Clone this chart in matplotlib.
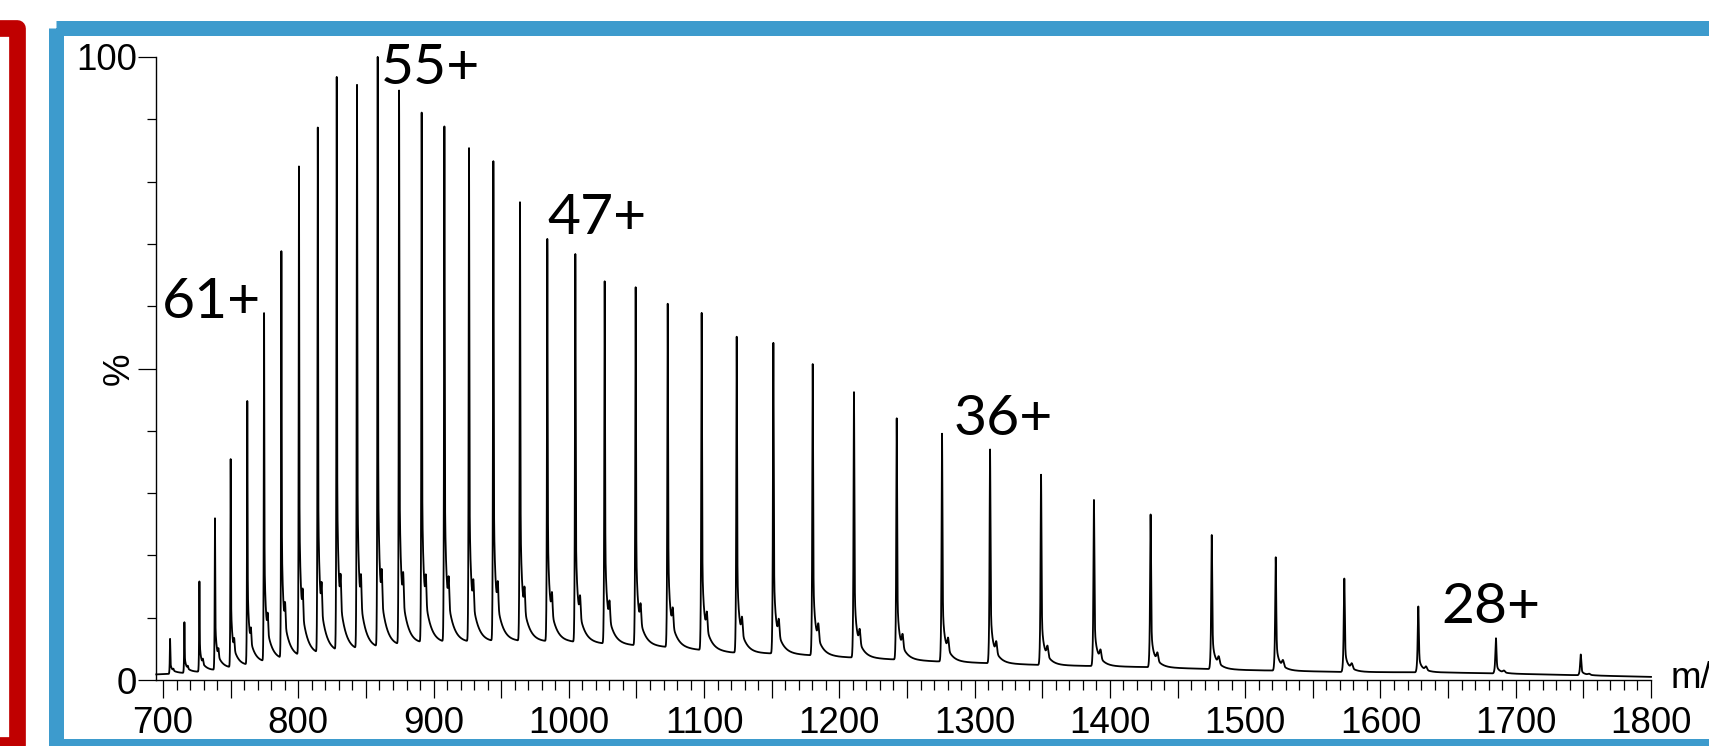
import numpy as np
import matplotlib.pyplot as plt
from matplotlib.patches import Rectangle
from matplotlib.ticker import MultipleLocator, FixedLocator, FuncFormatter

plt.rcParams['font.family'] = ['Liberation Sans', 'DejaVu Sans']

# charge-state series
charges = list(range(67, 26, -1))
peak_mz = [705.2, 715.8, 726.9, 738.4, 750.0, 762.3, 774.7, 787.5, 800.5, 814.4,
           828.4, 843.4, 858.7, 874.5, 891.2, 908.0, 926.2, 944.2, 963.9, 984.1,
           1004.8, 1026.5, 1049.4, 1073.1, 1098.2, 1124.1, 1151.2, 1180.3, 1210.8, 1242.4,
           1275.9, 1311.4, 1349.1, 1388.2, 1430.1, 1475.3, 1522.6, 1573.3, 1628.0, 1685.4,
           1748.1]
peak_height = [6.6, 9.2, 15.8, 25.8, 35.2, 44.7, 58.8, 68.7, 82.3, 88.2,
               96.3, 95.1, 100.0, 94.6, 90.8, 88.6, 85.2, 83.1, 76.8, 70.9,
               68.3, 64.1, 63.0, 60.5, 58.9, 55.2, 54.1, 50.8, 46.2, 42.0,
               39.6, 37.0, 33.0, 28.9, 26.6, 23.3, 19.7, 16.3, 11.8, 6.7,
               4.1]

# baseline level between peaks
base_mz = [695, 720, 735, 757, 780, 805, 825, 850, 870, 890, 920, 960, 1000, 1070,
           1120, 1160, 1200, 1270, 1350, 1420, 1500, 1570, 1650, 1720, 1800]
base_val = [0.9, 1.1, 1.4, 2.0, 2.9, 3.7, 4.3, 4.8, 5.3, 5.8, 6.0, 6.2, 6.1, 5.3,
            4.4, 4.2, 3.7, 3.0, 2.4, 2.1, 1.6, 1.3, 1.2, 0.9, 0.5]

labels = ['61+', '55+', '47+', '36+', '28+']
label_x = [699.5, 861.0, 984.5, 1284.5, 1645.0]
label_y = [58.1, 95.7, 71.6, 39.3, 9.1]

# build profile: sharp peak + tail to higher m/z + small adduct
mz = np.arange(695.0, 1800.001, 0.04)
signal = np.interp(mz, base_mz, base_val)
for m, h, z in zip(peak_mz, peak_height, charges):
    amp = h - np.interp(m, base_mz, base_val)
    d = mz - m
    sig = 0.22 * m / 1000
    spike = np.exp(-0.5 * (d / sig) ** 2)
    rise = np.where(d < 0, np.exp(-0.5 * (d / (2 * sig)) ** 2), 1.0)
    dd = np.clip(d, 0, None)
    tail = rise * (0.22 * np.exp(-dd / 0.7) + 0.16 * np.exp(-dd / 4.2))
    adduct = 0.05 * np.exp(-0.5 * ((d - 165.0 / z) / (2 * sig)) ** 2)
    signal += amp * (0.62 * spike + tail + adduct)

fig = plt.figure(figsize=(17.09, 7.46), dpi=100)

# coloured frames (pixel coords)
bg = fig.add_axes([0, 0, 1, 1])
bg.set_xlim(0, 1709)
bg.set_ylim(746, 0)
bg.axis('off')
bg.add_patch(Rectangle((-300, 27.5), 316.7, 717.5, fill=False, ec='#C00000',
                       lw=16.7 * 0.72, joinstyle='round'))
bg.add_patch(Rectangle((55.5, 27.5), 2000, 718, fill=False, ec='#3D9BCD',
                       lw=15 * 0.72, joinstyle='round'))

ax = fig.add_axes([156 / 1709, 66 / 746, 1495 / 1709, 623 / 746])
ax.set_facecolor('none')
ax.plot(mz, signal, color='black', lw=1.3, clip_on=False)
ax.set_xlim(694.8, 1800)
ax.set_ylim(0, 100)
for s in ['top', 'right']:
    ax.spines[s].set_visible(False)
for s in ['left', 'bottom']:
    ax.spines[s].set_linewidth(1.0)

ax.xaxis.set_major_locator(MultipleLocator(50))
ax.xaxis.set_minor_locator(MultipleLocator(10))
ax.xaxis.set_major_formatter(FuncFormatter(lambda v, p: f'{v:.0f}' if abs(v % 100) < 1e-6 else ''))
ax.yaxis.set_major_locator(FixedLocator([0, 50, 100]))
ax.yaxis.set_minor_locator(MultipleLocator(10))
ax.set_yticklabels(['0', '%', '100'])
ax.get_yticklabels()[1].set_rotation(90)
ax.get_yticklabels()[1].set_va('center')

ax.tick_params(axis='x', which='major', length=13, width=0.9, pad=6, labelsize=26.5)
ax.tick_params(axis='x', which='minor', length=7.2, width=0.9)
ax.tick_params(axis='y', which='major', length=12.7, width=0.9, pad=1, labelsize=26.5)
ax.tick_params(axis='y', which='minor', length=6.7, width=0.9)

for t, x, y in zip(labels, label_x, label_y):
    ax.text(x, y, t, fontfamily='Lato', fontsize=41, ha='left', va='baseline')

fig.text(1671 / 1709, (746 - 688) / 746, 'm/z', fontsize=26.5, ha='left', va='baseline')

fig.savefig('out.png', dpi=100)
